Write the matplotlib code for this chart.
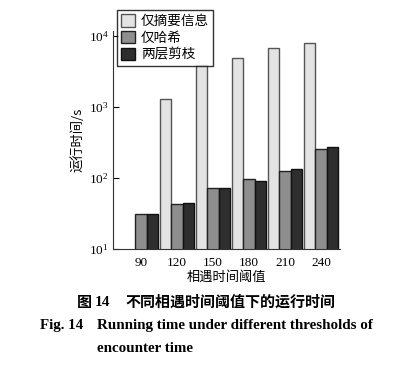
import matplotlib
matplotlib.use("Agg")
import matplotlib.pyplot as plt
import numpy as np

categories = ["90", "120", "150", "180", "210", "240"]
series_names = ["仅摘要信息", "仅哈希", "两层剪枝"]
digest_only = [np.nan, 1300, 3900, 4900, 6800, 8000]
hash_only = [31, 43, 72, 97, 126, 257]
two_level = [31.5, 44, 72, 91, 134, 273]
colors = ["#e3e3e3", "#8e8e8e", "#2e2e2e"]
edges = ["#555555", "#222222", "#111111"]

plt.rcParams['font.family'] = ['Liberation Serif', 'Noto Sans CJK SC']
plt.rcParams['mathtext.fontset'] = 'custom'
plt.rcParams['mathtext.rm'] = 'Liberation Serif'

fig = plt.figure(figsize=(4.03, 3.66), dpi=100)
ax = fig.add_axes([113/403, 1-249/366, (340-113)/403, (249-31)/366])

x = np.arange(len(categories))
w = 0.315
for i, (vals, c, ec, name) in enumerate(zip([digest_only, hash_only, two_level], colors, edges, series_names)):
    ax.bar(x + (i-1)*w, vals, width=w, color=c, edgecolor=ec, linewidth=1.0, label=name)

ax.set_yscale('log')
ax.set_ylim(10, 10**4.07)
ax.set_xlim(-0.78, 5.53)
ax.set_xticks(x)
ax.set_xticklabels(categories, fontsize=9.5)
ax.tick_params(axis='x', length=0, pad=6)
ax.tick_params(axis='y', which='major', direction='in', length=4, labelsize=9.5, pad=3)
ax.tick_params(axis='y', which='minor', length=0)
ax.set_yticks([10, 100, 1000, 10000])
ax.spines['top'].set_visible(False)
ax.spines['right'].set_visible(False)
ax.spines['left'].set_color('#333333')
ax.spines['bottom'].set_color('#333333')

ax.set_ylabel("运行时间/s", family=['Noto Sans CJK SC'], fontsize=9.5, labelpad=3)
ax.set_xlabel("相遇时间阈值", family=['Noto Sans CJK SC'], fontsize=9.5, labelpad=1)

leg = fig.legend(loc='upper left', bbox_to_anchor=(117/403, 1-10/366), frameon=True,
                 fancybox=False, edgecolor='black', prop={'family': 'Noto Sans CJK SC', 'size': 9.8},
                 handlelength=1.05, handleheight=1.05, handletextpad=0.4, borderpad=0.3,
                 labelspacing=0.2, borderaxespad=0)
leg.get_frame().set_linewidth(1.0)

# caption
fig.text(125/403, 1-302/366, "不同相遇时间阈值下的运行时间", family=['Noto Sans CJK SC'],
         fontsize=10.8, weight='bold', ha='left', va='center')
fig.text(77/403, 1-302/366, "图", family=['Noto Sans CJK SC'], fontsize=10.8, weight='bold',
         ha='left', va='center')
fig.text(95/403, 1-302/366, "14", family=['Liberation Serif'], fontsize=11, weight='bold',
         ha='left', va='center')
fig.text(40/403, 1-326/366, "Fig. 14", family=['Liberation Serif'], fontsize=10.8, weight='bold',
         ha='left', va='center')
fig.text(97/403, 1-326/366, "Running time under different thresholds of", family=['Liberation Serif'],
         fontsize=10.8, weight='bold', ha='left', va='center')
fig.text(97/403, 1-349/366, "encounter time", family=['Liberation Serif'],
         fontsize=10.8, weight='bold', ha='left', va='center')

fig.savefig("out.png", dpi=100, facecolor='white')
